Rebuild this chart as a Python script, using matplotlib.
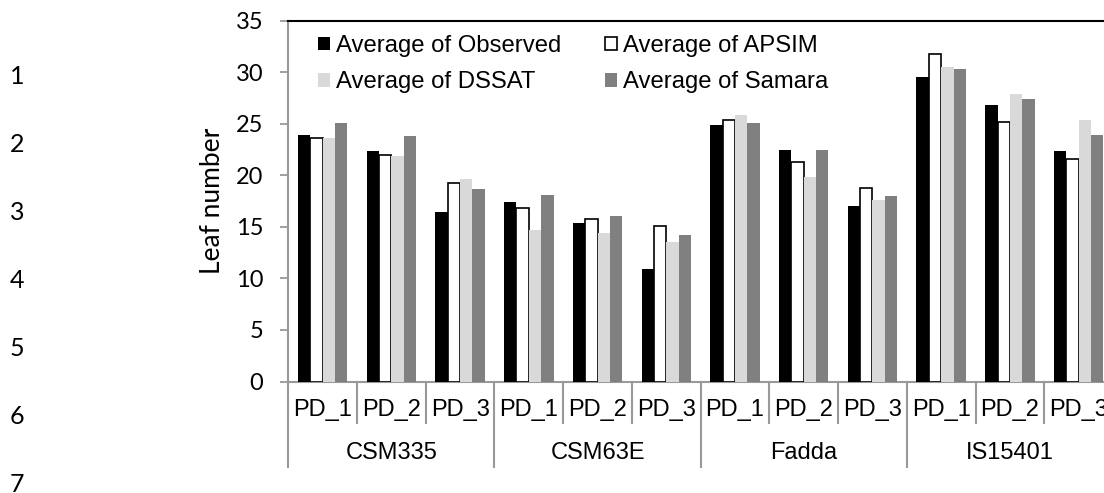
import matplotlib
matplotlib.use("Agg")
import matplotlib.pyplot as plt
import matplotlib.transforms as mtransforms
from matplotlib.patches import Patch
import numpy as np

# Leaf number per genotype and planting date
genotypes = ["CSM335", "CSM63E", "Fadda", "IS15401"]
planting_dates = ["PD_1", "PD_2", "PD_3"]

observed = [23.9, 22.4, 16.4, 17.4, 15.4, 10.95, 24.85, 22.5, 17.0, 29.5, 26.8, 22.4]
apsim = [23.6, 21.95, 19.3, 16.8, 15.8, 15.1, 25.4, 21.25, 18.8, 31.8, 25.2, 21.6]
dssat = [23.6, 21.9, 19.6, 14.7, 14.4, 13.5, 25.9, 19.8, 17.6, 30.5, 27.9, 25.4]
samara = [25.1, 23.8, 18.7, 18.1, 16.1, 14.25, 25.1, 22.5, 18.0, 30.3, 27.4, 23.9]

series_names = ["Average of Observed", "Average of APSIM",
                "Average of DSSAT", "Average of Samara"]
series_values = [observed, apsim, dssat, samara]
face_colors = ["#000000", "#ffffff", "#d9d9d9", "#808080"]
edge_colors = ["#000000", "#000000", "#d9d9d9", "#808080"]

y_ticks = [0, 5, 10, 15, 20, 25, 30, 35]
page_line_numbers = ["1", "2", "3", "4", "5", "6", "7"]

W, H = 1104, 493
fig = plt.figure(figsize=(W / 100, H / 100), dpi=100)

ax_left, ax_right, ax_top, ax_bottom = 288.3, 1113.0, 20.7, 381.5
ax = fig.add_axes([ax_left / W, 1 - ax_bottom / H,
                   (ax_right - ax_left) / W, (ax_bottom - ax_top) / H])

n_cat = len(genotypes) * len(planting_dates)
x = np.arange(n_cat) + 0.5
bw = 0.18
for j, (name, vals) in enumerate(zip(series_names, series_values)):
    ax.bar(x + (j - 1.5) * bw, vals, width=bw, color=face_colors[j],
           edgecolor=edge_colors[j], linewidth=1.2 if j == 1 else 0,
           label=name, zorder=3)

ax.set_xlim(0, n_cat)
ax.set_ylim(0, 35)
ax.set_yticks(y_ticks)
ax.set_yticklabels([str(t) for t in y_ticks], family="Lato", fontsize=17)
ax.tick_params(axis="y", length=6, width=1.3, color="#999999", pad=12)
ax.set_xticks([])

ax.spines["right"].set_visible(False)
ax.spines["top"].set_color("black")
ax.spines["top"].set_linewidth(1.5)
for side in ["left", "bottom"]:
    ax.spines[side].set_color("#999999")
    ax.spines[side].set_linewidth(1.5)

ax.set_ylabel("Leaf number", family="Lato", fontsize=19, labelpad=8)

# Two-level category axis
trans = mtransforms.blended_transform_factory(ax.transData, ax.transAxes)
ax_h = ax_bottom - ax_top
pd_y = -(410 - ax_bottom) / ax_h
grp_y = -(452.7 - ax_bottom) / ax_h
pd_tick_end = -(423 - ax_bottom) / ax_h
grp_tick_end = -(467 - ax_bottom) / ax_h

for i in range(n_cat):
    ax.text(x[i], pd_y, planting_dates[i % 3], transform=trans,
            ha="center", va="center", family="Liberation Sans", fontsize=17)
for i in range(n_cat + 1):
    end = grp_tick_end if i % 3 == 0 else pd_tick_end
    ax.plot([i, i], [0, end], transform=trans, color="#999999",
            lw=1.5, clip_on=False)
for g, name in enumerate(genotypes):
    ax.text(g * 3 + 1.5, grp_y, name, transform=trans,
            ha="center", va="center", family="Liberation Sans", fontsize=17)

handles = [Patch(facecolor=face_colors[j], edgecolor="black" if j == 1 else face_colors[j],
                 linewidth=1.2 if j == 1 else 0) for j in range(4)]
order = [0, 2, 1, 3]
fig.legend([handles[k] for k in order], [series_names[k] for k in order],
           loc="upper left", bbox_to_anchor=(318 / W, 1 - 35 / H),
           ncol=2, frameon=False, borderpad=0, borderaxespad=0,
           handlelength=0.5, handleheight=0.5, handletextpad=0.25,
           columnspacing=1.85, labelspacing=0.6,
           prop={"family": "Liberation Sans", "size": 17.2})

# Page line numbers in the margin
line_y = [76, 144, 212, 280, 349, 417, 485]
for lab, yy in zip(page_line_numbers, line_y):
    fig.text(10 / W, 1 - yy / H, lab, ha="left", va="center",
             family="Lato", fontsize=18)

fig.savefig("out.png", dpi=100)
